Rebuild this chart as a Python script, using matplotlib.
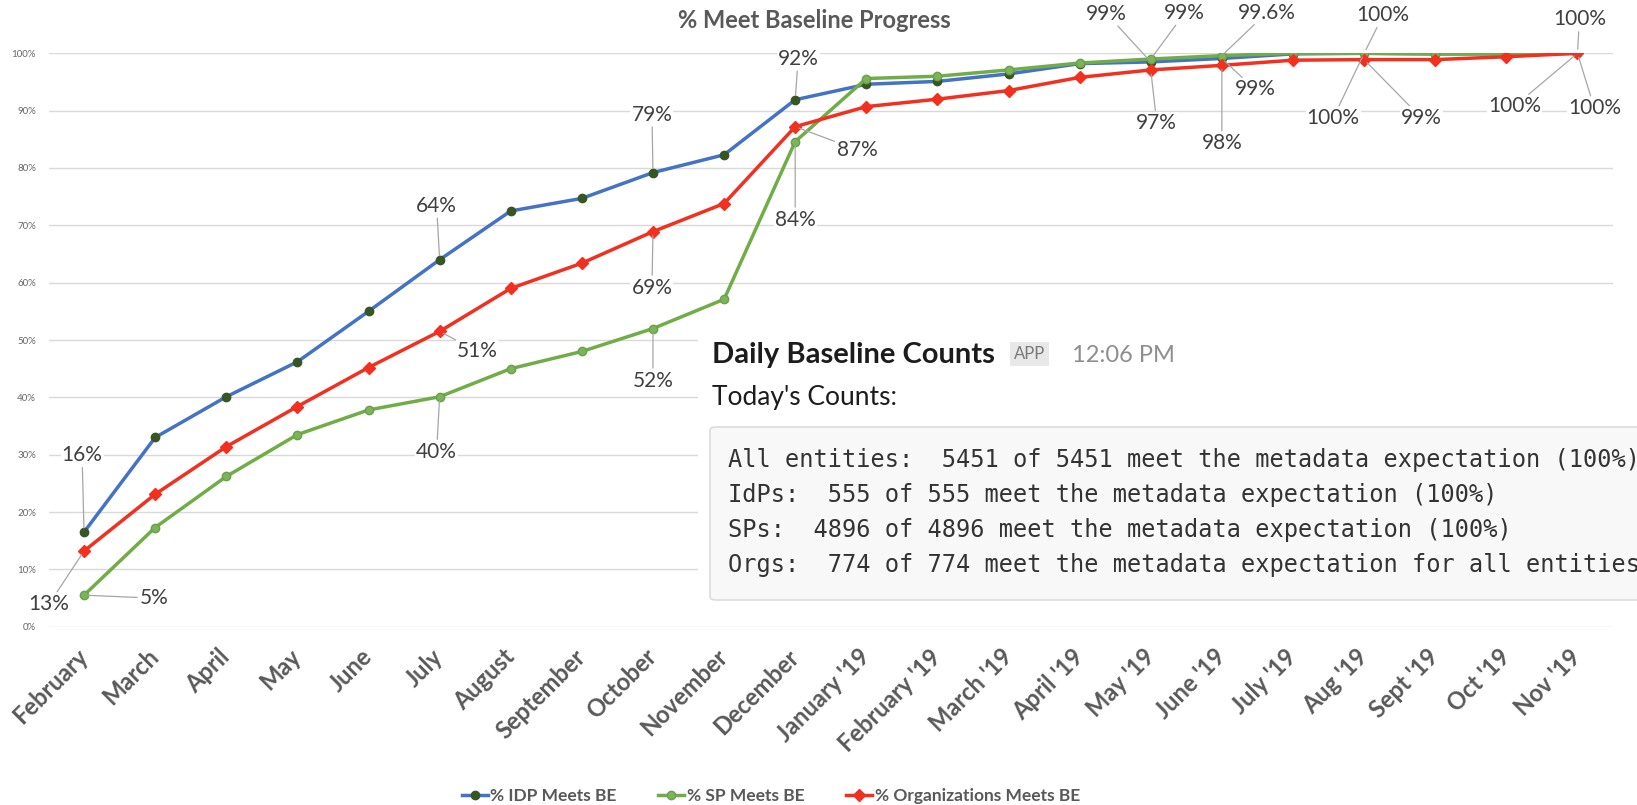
import matplotlib
matplotlib.use("Agg")
import matplotlib.pyplot as plt
from matplotlib.patches import Rectangle, FancyBboxPatch

plt.rcParams['font.family'] = ['Lato', 'DejaVu Sans']

# data (percent)
months = ['February', 'March', 'April', 'May', 'June', 'July', 'August',
          'September', 'October', 'November', 'December', "January '19",
          "February '19", "March '19", "April '19", "May '19", "June '19",
          "July '19", "Aug '19", "Sept '19", "Oct '19", "Nov '19"]
idp = [16.5, 33.0, 40.1, 46.2, 55.0, 64.0, 72.5, 74.7, 79.2, 82.3, 91.9,
       94.6, 95.1, 96.4, 98.2, 98.5, 99.1, 99.9, 100, 99.9, 99.9, 100]
sp = [5.5, 17.3, 26.2, 33.5, 37.8, 40.1, 45.0, 48.0, 52.0, 57.1, 84.6,
      95.6, 96.0, 97.1, 98.3, 99.0, 99.6, 100, 100, 99.9, 99.9, 100]
org = [13.2, 23.1, 31.4, 38.4, 45.2, 51.5, 59.0, 63.4, 68.9, 73.8, 87.2,
       90.7, 92.0, 93.5, 95.8, 97.1, 97.9, 98.8, 98.9, 98.9, 99.4, 100]

# data labels shown on the chart: (month index, text)
labels_idp = [(0, '16%'), (5, '64%'), (8, '79%'), (10, '92%'), (15, '99%'),
              (16, '99%'), (18, '100%'), (21, '100%')]
labels_sp = [(0, '5%'), (5, '40%'), (8, '52%'), (10, '84%'), (15, '99%'),
             (16, '99.6%'), (18, '100%'), (21, '100%')]
labels_org = [(0, '13%'), (5, '51%'), (8, '69%'), (10, '87%'), (15, '97%'),
              (16, '98%'), (18, '99%'), (21, '100%')]

# label offsets in pixels (layout only)
off_idp = [(-2, 77), (-3, 54), (-1, 58), (3, 41), (-44, 48), (33, -31), (-31, -65), (-63, -53)]
off_sp = [(70, -3), (-3, -55), (0, -52), (0, -78), (34, 46), (45, 43), (19, 38), (2, 34)]
off_org = [(-35, -53), (38, -20), (-1, -56), (62, -23), (6, -53), (0, -78), (57, -58), (17, -55)]

counts_lines = [
    "All entities:  5451 of 5451 meet the metadata expectation (100%)",
    "IdPs:  555 of 555 meet the metadata expectation (100%)",
    "SPs:  4896 of 4896 meet the metadata expectation (100%)",
    "Orgs:  774 of 774 meet the metadata expectation for all entities",
]

W, H = 1637, 805
fig = plt.figure(figsize=(W / 100, H / 100), dpi=100)
ax = fig.add_axes([48.5 / W, 178.3 / H, 1564.5 / W, 573.4 / H])
x = list(range(len(months)))

ax.plot(x, idp, color='#4472C4', lw=2.5, marker='o', ms=6,
        mfc='#375623', mec='#375623', label='% IDP Meets BE', zorder=3)
ax.plot(x, sp, color='#70AD47', lw=2.5, marker='o', ms=6,
        mfc='#7cb45a', mec='#6aa04a', label='% SP Meets BE', zorder=3)
ax.plot(x, org, color='#F2301F', lw=2.5, marker='D', ms=6.5,
        mfc='#F2301F', mec='#F2301F', label='% Organizations Meets BE', zorder=3)

ax.set_xlim(-0.5, len(months) - 0.5)
ax.set_ylim(0, 100)
ax.set_yticks(range(0, 101, 10))
ax.set_yticklabels([f'{v}%' for v in range(0, 101, 10)], fontsize=7, color='#666666')
ax.set_xticks(x)
ax.set_xticklabels(months, rotation=45, ha='right', va='center', rotation_mode='anchor',
                   fontsize=17, fontweight='bold', color='#595959')
ax.tick_params(axis='y', length=0, pad=9)
ax.tick_params(axis='x', length=0, pad=19)
ax.grid(axis='y', color='#d9d9d9', lw=1)
ax.set_axisbelow(True)
for s in ax.spines.values():
    s.set_visible(False)

# white area of the pasted message, hides the grid behind it
ax.add_patch(Rectangle((698 / W, (H - 614) / H), 1 - 698 / W, 322 / H,
                       transform=fig.transFigure, facecolor='white',
                       edgecolor='none', zorder=1, clip_on=False))

for series, labs, offs in [(idp, labels_idp, off_idp), (sp, labels_sp, off_sp),
                           (org, labels_org, off_org)]:
    for (i, txt), (dx, dy) in zip(labs, offs):
        ax.annotate(txt, xy=(i, series[i]), xytext=(dx, dy),
                    textcoords='offset pixels', ha='center', va='center',
                    fontsize=15, color='#404040', zorder=6, annotation_clip=False,
                    bbox=dict(boxstyle='square,pad=0.05', fc='white', ec='none'),
                    arrowprops=dict(arrowstyle='-', color='#a6a6a6', lw=0.9,
                                    shrinkA=1, shrinkB=3))

fig.text(814 / W, (H - 20) / H, '% Meet Baseline Progress', ha='center', va='center',
         fontsize=17, fontweight='bold', color='#595959')

leg = fig.legend(loc='center', bbox_to_anchor=(771 / W, (H - 796) / H), ncol=3,
                 frameon=False, handlelength=1.5, handletextpad=0.15,
                 columnspacing=2.4, prop={'weight': 'bold', 'size': 12.5})
for t in leg.get_texts():
    t.set_color('#595959')

# pasted Slack message
fig.text(712 / W, (H - 363) / H, 'Daily Baseline Counts', fontsize=21,
         fontweight='bold', color='#1d1c1d', va='baseline')
fig.text(1014 / W, (H - 354) / H, 'APP', fontsize=12, color='#7a7a7a', va='center',
         bbox=dict(boxstyle='square,pad=0.25', fc='#e8e8e8', ec='none'))
fig.text(1072 / W, (H - 355) / H, '12:06 PM', fontsize=17, color='#8e8e8e', va='center')
fig.text(712 / W, (H - 405) / H, "Today's Counts:", fontsize=19,
         color='#1d1c1d', va='baseline')
fig.add_artist(FancyBboxPatch((710 / W, (H - 600) / H), 0.6, 173 / H,
                              boxstyle='round,pad=0,rounding_size=0.004',
                              transform=fig.transFigure, facecolor='#f8f8f8',
                              edgecolor='#dcdcdc', lw=1.2))
for k, line in enumerate(counts_lines):
    fig.text(728 / W, (H - 460 - 35 * k) / H, line, fontsize=17,
             family='DejaVu Sans Mono', color='#333333', va='center')

fig.savefig('out.png', dpi=100)
